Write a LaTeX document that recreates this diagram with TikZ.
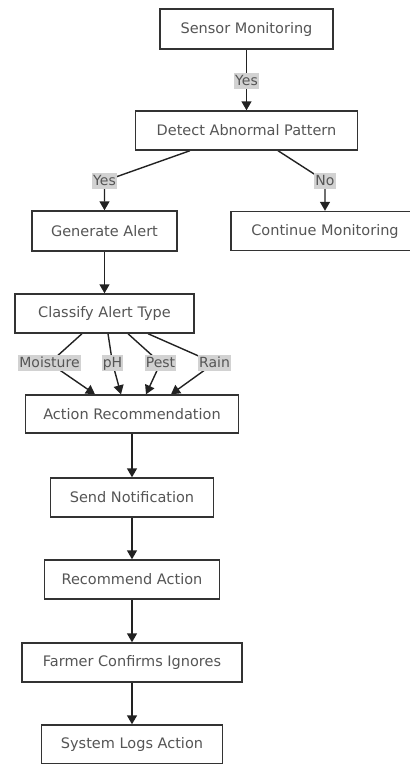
\documentclass[tikz,border=0pt]{standalone}
\usepackage{fontspec}
\setmainfont{DejaVu Sans}
\usetikzlibrary{arrows.meta,backgrounds}
\definecolor{edgecol}{HTML}{222222}
\definecolor{boxcol}{HTML}{333333}
\definecolor{txtcol}{HTML}{555555}
\definecolor{lblfill}{HTML}{D2D2D2}
\tikzset{
  flowbox/.style={draw=boxcol, line width=1.4pt, fill=white, rectangle,
    inner sep=0pt, text=txtcol, font=\fontsize{14.5}{16}\selectfont},
  edgelbl/.style={fill=lblfill, text=txtcol, inner xsep=1pt, inner ysep=1.5pt,
    text height=10.5pt, text depth=2.5pt, font=\fontsize{14}{16}\selectfont},
  conn/.style={draw=edgecol, line width=1.4pt},
  flow/.style={conn, -{Triangle[width=10pt,length=9pt]}},
}
\begin{document}
\begin{tikzpicture}[x=1pt,y=-1pt]
\useasboundingbox (0,0) rectangle (410,764);
% process boxes
\node[flowbox, minimum width=173pt, minimum height=40pt] (sensor)   at (246.5,29)  {Sensor Monitoring};
\node[flowbox, minimum width=222pt, minimum height=39pt] (detect)   at (246.5,130.5) {Detect Abnormal Pattern};
\node[flowbox, minimum width=145pt, minimum height=40pt] (generate) at (104.5,231) {Generate Alert};
\node[flowbox, minimum width=188pt, minimum height=39pt] (continue) at (325,231)   {Continue Monitoring};
\node[flowbox, minimum width=179pt, minimum height=39pt] (classify) at (104.5,313.5) {Classify Alert Type};
\node[flowbox, minimum width=213pt, minimum height=38pt] (action)   at (132,414) {Action Recommendation};
\node[flowbox, minimum width=163pt, minimum height=39pt] (notify)   at (132,497.5) {Send Notification};
\node[flowbox, minimum width=175pt, minimum height=39pt] (recommend) at (132,579.5) {Recommend Action};
\node[flowbox, minimum width=220pt, minimum height=39pt] (farmer)   at (132,662.5) {Farmer Confirms Ignores};
\node[flowbox, minimum width=181pt, minimum height=39pt] (logs)     at (132,744.5) {System Logs Action};
% edge labels
\node[edgelbl] (yesA)  at (246.5,81)  {Yes};
\node[edgelbl] (yesB)  at (104.5,181) {Yes};
\node[edgelbl] (noA)   at (325,181)   {No};
\node[edgelbl] (moist) at (49.5,363)  {Moisture};
\node[edgelbl] (ph)    at (112.5,363) {pH};
\node[edgelbl] (pest)  at (160.5,363) {Pest};
\node[edgelbl] (rain)  at (214.5,363) {Rain};
% connectors, drawn beneath the labels
\begin{scope}[on background layer]
\draw[flow] (sensor.south) -- (yesA.center) -- (detect.north);
\draw[flow] (detect.south -| 190,0) -- (yesB.center) -- (generate.north);
\draw[flow] (detect.south -| 278,0) -- (noA.center) -- (noA.center |- continue.north);
\draw[flow] (generate.south) -- (classify.north);
\draw[flow] (classify.south -| 82,0)  -- (moist.center) -- (action.north -| 95,0);
\draw[flow] (classify.south -| 108,0) -- (ph.center)    -- (action.north -| 121,0);
\draw[flow] (classify.south -| 128,0) -- (pest.center)  -- (action.north -| 146,0);
\draw[flow] (classify.south -| 148,0) -- (rain.center)  -- (action.north -| 171,0);
\draw[flow] (action.south) -- (notify.north);
\draw[flow] (notify.south) -- (recommend.north);
\draw[flow] (recommend.south) -- (farmer.north);
\draw[flow] (farmer.south) -- (logs.north);
\end{scope}
\end{tikzpicture}
\end{document}
